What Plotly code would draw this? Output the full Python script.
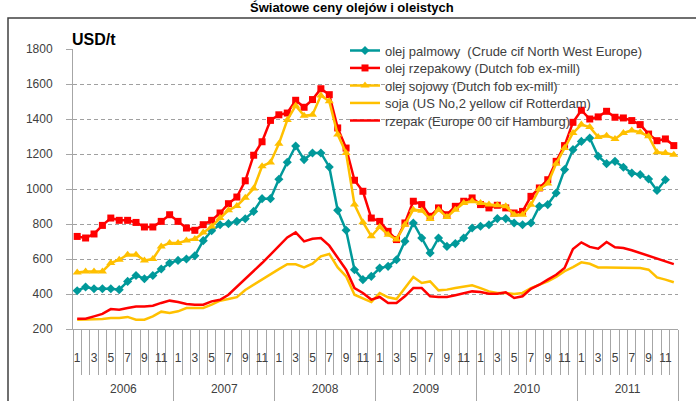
import plotly.graph_objects as go

# ---------------- data ----------------
years = [2006, 2007, 2008, 2009, 2010, 2011]
month_labels = ["1", "3", "5", "7", "9", "11"]
odd_months = [1, 3, 5, 7, 9, 11]

names = [
    "olej palmowy  (Crude cif North West Europe)",
    "olej rzepakowy (Dutch fob ex-mill)",
    "olej sojowy (Dutch fob ex-mill)",
    "soja (US No,2 yellow cif Rotterdam)",
    "rzepak (Europe 00 cif Hamburg)",
]

palm_oil = [419, 440, 430, 430, 430, 425, 472, 506, 487, 506, 543, 577,
            592, 600, 619, 705, 762, 796, 802, 815, 830, 872, 945, 945,
            1056, 1153, 1246, 1168, 1206, 1206, 1126, 878, 764, 539, 482, 501,
            548, 558, 596, 701, 806, 720, 634, 720, 672, 688, 720, 777,
            787, 796, 831, 831, 806, 796, 806, 901, 911, 977, 1111, 1225,
            1272, 1291, 1187, 1145, 1158, 1124, 1091, 1082, 1057, 992, 1053, None]

rapeseed_oil = [729, 720, 743, 792, 834, 821, 821, 809, 783, 783, 815, 853,
                815, 777, 764, 796, 821, 863, 916, 954, 1047, 1193, 1270, 1392,
                1424, 1434, 1507, 1467, 1511, 1573, 1539, 1349, 1234, 1050, 987, 834,
                815, 758, 711, 806, 930, 911, 844, 892, 853, 901, 930, 949,
                911, 892, 907, 892, 863, 872, 958, 1006, 1053, 1158, 1248, 1381,
                1450, 1400, 1412, 1444, 1410, 1406, 1391, 1368, 1314, 1276, 1286, 1248]

soy_oil = [523, 529, 529, 529, 577, 596, 625, 625, 592, 600, 672, 691,
           691, 706, 714, 752, 786, 834, 878, 903, 950, 1003, 1130, 1152,
           1258, 1394, 1476, 1419, 1425, 1534, 1501, 1311, 1206, 911, 810, 730,
           783, 739, 711, 796, 882, 876, 829, 882, 840, 882, 920, 930,
           920, 911, 907, 901, 853, 853, 910, 1000, 1031, 1145, 1234, 1320,
           1368, 1354, 1297, 1305, 1286, 1320, 1335, 1324, 1301, 1210, 1206, 1196]

soybean = [253, 253, 253, 257, 263, 263, 269, 253, 253, 272, 299, 291,
           301, 320, 320, 320, 339, 362, 371, 382, 423, 453, 487, 515,
           542, 570, 570, 552, 573, 615, 629, 552, 501, 396, 377, 354,
           405, 381, 371, 434, 497, 463, 472, 421, 425, 434, 444, 450,
           434, 415, 406, 406, 400, 406, 434, 453, 472, 497, 530, 554,
           581, 573, 552, 552, 552, 552, 552, 549, 539, 495, 482, 467]

rapeseed = [259, 259, 272, 286, 314, 310, 320, 329, 329, 333, 349, 362,
            354, 343, 339, 339, 358, 367, 396, 440, 486, 529, 577, 625,
            672, 723, 752, 701, 716, 720, 676, 606, 539, 434, 406, 368,
            383, 349, 349, 387, 434, 434, 387, 383, 383, 393, 406, 415,
            411, 402, 402, 410, 377, 387, 430, 453, 482, 510, 549, 657,
            695, 669, 659, 697, 667, 663, 650, 634, 619, 602, 590, 571]

y_ticks = [200, 400, 600, 800, 1000, 1200, 1400, 1600, 1800]

# ---------------- figure ----------------
W, H = 696, 401
ML, MR, MT, MB = 73, 18, 49, 72
PW, PH = W - ML - MR, H - MT - MB


def px_x(px):
    return (px - ML) / PW


def px_y(py):
    return (H - MB - py) / PH


n = len(years) * 12
x = list(range(n))
FONT = "Liberation Sans"
TXT = "#404040"
AX = "#a6a6a6"

fig = go.Figure()
styles = [
    (palm_oil, "#00999a", "diamond", 7),
    (rapeseed_oil, "#ff0000", "square", 7),
    (soy_oil, "#ffc000", "triangle-up", 8),
    (soybean, "#ffc000", None, 0),
    (rapeseed, "#ff0000", None, 0),
]
legend_ids = ["legend", "legend2", "legend3", "legend4", "legend5"]
for name, lid, (vals, col, sym, sz) in zip(names, legend_ids, styles):
    if sym:
        fig.add_trace(go.Scatter(x=x, y=vals, name=name, mode="lines+markers", legend=lid,
                                 line=dict(color=col, width=2.5),
                                 marker=dict(symbol=sym, size=sz, color=col)))
    else:
        fig.add_trace(go.Scatter(x=x, y=vals, name=name, mode="lines", legend=lid,
                                 line=dict(color=col, width=2.5)))

# helper trace for the year axis
fig.add_trace(go.Scatter(x=[], y=[], xaxis="x2", showlegend=False, hoverinfo="skip"))

month_pos = [12 * k + m - 1 for k in range(len(years)) for m in odd_months]
year_pos = [12 * k + 5.5 for k in range(len(years))]

legend_rows_px = [50.5, 68, 85.5, 103, 120.5]
legends = {}
for lid, py in zip(legend_ids, legend_rows_px):
    legends[lid] = dict(x=px_x(345), y=px_y(py),
                        xanchor="left", yanchor="middle", bgcolor="rgba(0,0,0,0)",
                        font=dict(size=13, color=TXT, family=FONT))

fig.update_layout(
    width=W, height=H,
    margin=dict(l=ML, r=MR, t=MT, b=MB, autoexpand=False),
    paper_bgcolor="white", plot_bgcolor="white",
    font=dict(family=FONT, size=12, color=TXT),
    showlegend=True,
    xaxis=dict(range=[-0.5, n - 0.5], tickmode="array", tickvals=month_pos,
               ticktext=month_labels * len(years), ticks="", showgrid=False,
               zeroline=False, showline=True, linecolor=AX, linewidth=1,
               ticklabelstandoff=18, tickfont=dict(size=12, color=TXT),
               minor=dict(tick0=-0.5, dtick=1, ticks="outside", ticklen=45,
                          tickcolor=AX, tickwidth=1, showgrid=False)),
    xaxis2=dict(overlaying="x", anchor="y", side="bottom", range=[-0.5, n - 0.5],
                tickmode="array", tickvals=year_pos, ticktext=[str(y) for y in years],
                ticks="", showgrid=False, zeroline=False, showline=False,
                ticklabelstandoff=51, tickfont=dict(size=12, color=TXT),
                minor=dict(tick0=-0.5, dtick=12, ticks="outside", ticklen=72,
                           tickcolor=AX, tickwidth=1, showgrid=False)),
    yaxis=dict(range=[200, 1800], tickmode="array", tickvals=y_ticks,
               showgrid=True, gridcolor="#a0a0a0", griddash="4px,3px", gridwidth=1,
               zeroline=False, showline=True, linecolor=AX, linewidth=1,
               ticks="outside", ticklen=6, tickcolor=AX, ticklabelstandoff=11,
               tickfont=dict(size=12, color=TXT)),
    annotations=[
        dict(text="<b>USD/t</b>", xref="paper", yref="paper", x=px_x(70), y=px_y(40),
             xanchor="left", yanchor="middle", showarrow=False,
             font=dict(size=16, color="#000000", family=FONT)),
        dict(text="<b>Światowe ceny olejów i oleistych</b>", xref="paper", yref="paper",
             x=px_x(352), y=px_y(-2), xanchor="center", yanchor="top",
             showarrow=False, font=dict(size=13, color="#000000", family=FONT)),
    ],
    shapes=[
        dict(type="rect", xref="paper", yref="paper",
             x0=px_x(8), x1=px_x(720), y0=px_y(430), y1=px_y(18),
             line=dict(color="#404040", width=1.5), layer="below"),
    ],
    **legends,
)

# the page body gets no default 8px margin, so the figure fills the window exactly
fig.write_html("out.html", config={"displayModeBar": False},
               post_script="document.body.style.margin='0';")
